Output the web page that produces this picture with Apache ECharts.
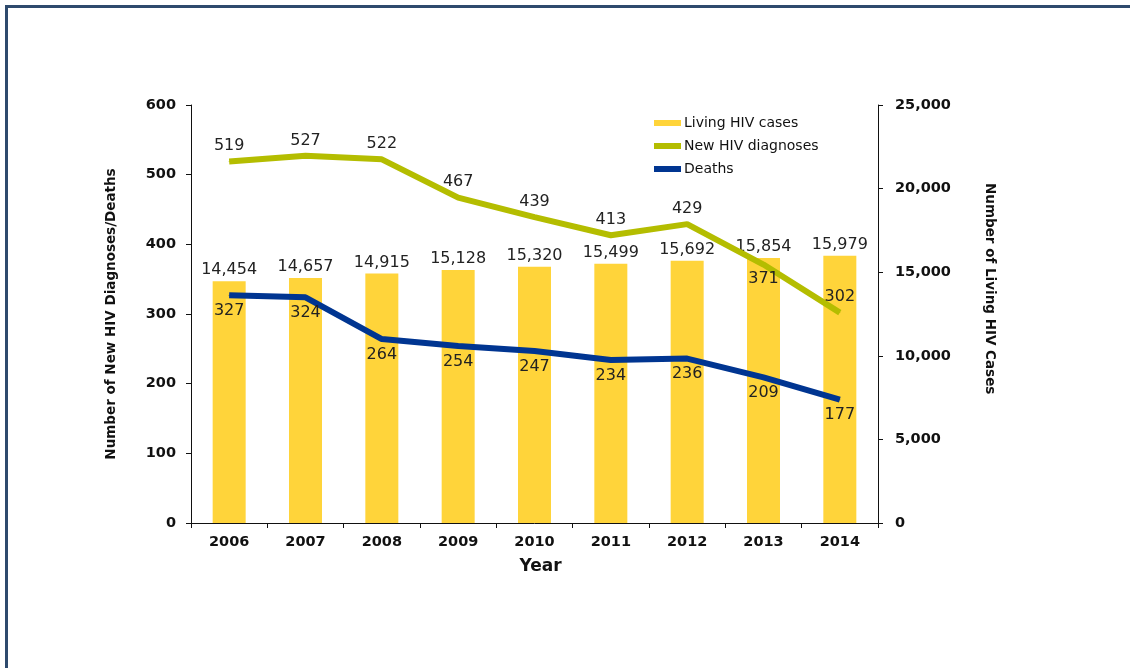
<!DOCTYPE html>
<html>
<head>
<meta charset="utf-8">
<script src="https://cdn.jsdelivr.net/npm/echarts@6/dist/echarts.min.js"></script>
<style>
  body { margin: 0; background: #fff; }
  #chart { width: 1130px; height: 668px; }
  #frame {
    position: absolute; left: 5px; top: 5px; width: 1125px; height: 663px;
    border-top: 3px solid #2e4a6d; border-left: 3px solid #2e4a6d;
    box-sizing: border-box; pointer-events: none;
  }
</style>
</head>
<body>
<div id="chart"></div>
<div id="frame"></div>
<script>
// data
const years = ["2006", "2007", "2008", "2009", "2010", "2011", "2012", "2013", "2014"];
const livingCases = [14454, 14657, 14915, 15128, 15320, 15499, 15692, 15854, 15979];
const newDiagnoses = [519, 527, 522, 467, 439, 413, 429, 371, 302];
const deaths = [327, 324, 264, 254, 247, 234, 236, 209, 177];

const fontFam = "DejaVu Sans, sans-serif";
const fmt = v => v.toLocaleString("en-US");

let myChart = echarts.init(document.getElementById("chart"));

// green labels sit above the line, except 2013 which is below it
const diagData = newDiagnoses.map((v, i) => i === 7
  ? { value: v, label: { position: "bottom", distance: 6 } }
  : v);

myChart.setOption({
  animation: false,
  textStyle: { fontFamily: fontFam },
  grid: { left: 191, right: 252, top: 105, bottom: 145 },
  legend: {
    orient: "vertical",
    left: 649,
    top: 111,
    itemGap: 9,
    itemWidth: 27,
    itemHeight: 6,
    textStyle: { fontSize: 14, color: "#111", fontFamily: fontFam, padding: [0, 0, 0, -2] },
    data: [
      { name: "Living HIV cases", icon: "rect" },
      { name: "New HIV diagnoses", icon: "rect" },
      { name: "Deaths", icon: "rect" }
    ]
  },
  xAxis: {
    type: "category",
    data: years,
    name: "Year",
    nameLocation: "middle",
    nameGap: 35,
    nameTextStyle: { fontSize: 17, fontWeight: "bold", color: "#111", padding: [0, 0, 0, 12] },
    axisLine: { lineStyle: { color: "#111", width: 1 } },
    axisTick: { show: true, length: 5, lineStyle: { color: "#111" } },
    axisLabel: { fontSize: 14.5, fontWeight: "bold", color: "#111", margin: 12 }
  },
  yAxis: [
    {
      type: "value",
      min: 0, max: 600, interval: 100,
      name: "Number of New HIV Diagnoses/Deaths",
      nameLocation: "middle",
      nameGap: 73,
      nameTextStyle: { fontSize: 13.5, fontWeight: "bold", color: "#111" },
      axisLine: { show: true, lineStyle: { color: "#111" } },
      axisTick: { show: true, length: 5, lineStyle: { color: "#111" } },
      splitLine: { show: false },
      axisLabel: { fontSize: 14.5, fontWeight: "bold", color: "#111", margin: 15 }
    },
    {
      type: "value",
      min: 0, max: 25000, interval: 5000,
      position: "right",
      axisLine: { show: true, lineStyle: { color: "#111" } },
      axisTick: { show: true, length: 5, lineStyle: { color: "#111" } },
      splitLine: { show: false },
      axisLabel: { fontSize: 14.5, fontWeight: "bold", color: "#111", margin: 17, formatter: fmt }
    }
  ],
  graphic: [
    {
      type: "text",
      left: 982, top: 183,
      rotation: -Math.PI / 2,
      style: { text: "Number of Living HIV Cases", font: "bold 13.5px " + fontFam, fill: "#111" }
    }
  ],
  series: [
    {
      name: "Living HIV cases",
      type: "bar",
      yAxisIndex: 1,
      barWidth: 33,
      data: livingCases,
      itemStyle: { color: "#ffd43a" },
      label: { show: true, position: "top", distance: 3, fontSize: 16, color: "#222", formatter: p => fmt(p.value) }
    },
    {
      name: "New HIV diagnoses",
      type: "line",
      data: diagData,
      symbol: "circle",
      symbolSize: 1,
      lineStyle: { color: "#b4bd00", width: 6 },
      itemStyle: { color: "#b4bd00" },
      label: { show: true, position: "top", distance: 7, fontSize: 16, color: "#222" },
      z: 3
    },
    {
      name: "Deaths",
      type: "line",
      data: deaths,
      symbol: "circle",
      symbolSize: 1,
      lineStyle: { color: "#003591", width: 6 },
      itemStyle: { color: "#003591" },
      label: { show: true, position: "bottom", distance: 7, fontSize: 16, color: "#222" },
      z: 4
    }
  ]
});
</script>
</body>
</html>
